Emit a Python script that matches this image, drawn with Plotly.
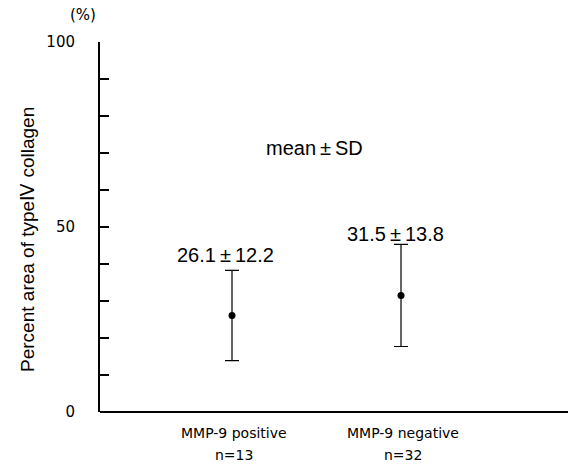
import plotly.graph_objects as go

categories = ["MMP-9 positive", "MMP-9 negative"]
n_values = [13, 32]
means = [26.1, 31.5]
sds = [12.2, 13.8]
y_tick_vals = [0, 10, 20, 30, 40, 50, 60, 70, 80, 90, 100]
y_tick_labels = ["0", "", "", "", "", "50", "", "", "", "", "100"]

xpos = [1, 2]
PM = "\u2009±\u2009"

fig = go.Figure()
fig.add_trace(go.Scatter(
    x=xpos, y=means, mode="markers",
    marker=dict(color="black", size=7),
    error_y=dict(type="data", array=sds, visible=True, color="black",
                 thickness=1.2, width=7),
    showlegend=False, hoverinfo="skip",
))

ann = []
for i, (m, s) in enumerate(zip(means, sds)):
    ann.append(dict(x=xpos[i], y=m + s, xref="x", yref="y",
                    text=f"{m}{PM}{s}", showarrow=False,
                    xshift=[-7, -6][i], yshift=[15, 10][i],
                    font=dict(family="Liberation Sans", size=20, color="black")))
for i, c in enumerate(categories):
    ann.append(dict(x=xpos[i], y=0, xref="x", yref="paper", text=c,
                    showarrow=False, yanchor="middle", yshift=-21, xshift=2,
                    font=dict(family="DejaVu Sans", size=14, color="black")))
    ann.append(dict(x=xpos[i], y=0, xref="x", yref="paper", text=f"n={n_values[i]}",
                    showarrow=False, yanchor="middle", yshift=-43, xshift=2,
                    font=dict(family="DejaVu Sans", size=14, color="black")))
ann.append(dict(x=1.49, y=71.3, xref="x", yref="y", text=f"mean{PM}SD",
                showarrow=False,
                font=dict(family="Liberation Sans", size=20, color="black")))
ann.append(dict(x=0, y=1, xref="paper", yref="paper", text="(%)",
                showarrow=False, xanchor="center", yanchor="middle",
                xshift=-17, yshift=27,
                font=dict(family="DejaVu Sans", size=15, color="black")))
ann.append(dict(x=0, y=46.5, xref="paper", yref="y",
                text="Percent area of typeⅣ collagen", textangle=-90,
                showarrow=False, xanchor="center", yanchor="middle", xshift=-72,
                font=dict(family="Liberation Sans", size=19, color="black")))

fig.update_layout(
    width=570, height=465,
    margin=dict(l=100, r=2, t=42, b=53),
    paper_bgcolor="white", plot_bgcolor="white",
    annotations=ann,
    xaxis=dict(range=[0.219, 2.988], showgrid=False, zeroline=False,
               showline=False,
               showticklabels=False, ticks=""),
    yaxis=dict(range=[0, 100], showgrid=False, zeroline=True,
               zerolinecolor="black", zerolinewidth=1.5,
               showline=True, linecolor="black", linewidth=2,
               tickvals=y_tick_vals, ticktext=y_tick_labels,
               ticks="inside", ticklen=9, tickwidth=1.5, tickcolor="black",
               ticklabelstandoff=20,
               tickfont=dict(family="DejaVu Sans", size=15, color="black")),
)

fig.write_html("out.html",
               post_script="document.body.style.margin='0';document.body.style.overflow='hidden';")
